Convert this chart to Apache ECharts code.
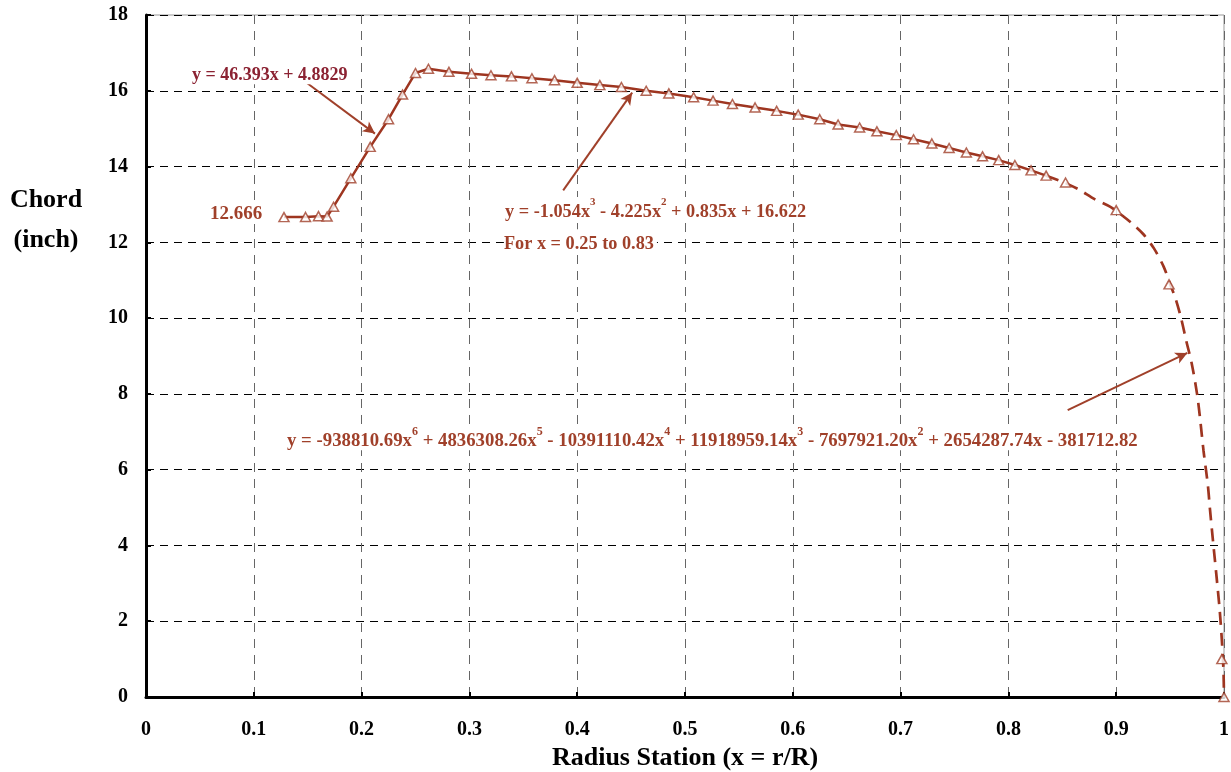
<!DOCTYPE html>
<html>
<head>
<meta charset="utf-8">
<script src="https://cdn.jsdelivr.net/npm/echarts@6/dist/echarts.min.js"></script>
<style>
html,body{margin:0;padding:0;background:#fff;}
#chart{width:1231px;height:772px;}
</style>
</head>
<body>
<div id="chart"></div>
<script>
// Measured points (triangles): radius station x = r/R and chord (inch)
var stationX = [0.128,0.148,0.160,0.168,0.174,0.190,0.208,0.225,0.238,0.250,0.262,0.281,0.302,0.320,0.339,0.358,0.379,0.400,0.421,0.441,0.464,0.485,0.508,0.526,0.544,0.565,0.585,0.605,0.625,0.642,0.662,0.678,0.696,0.712,0.729,0.745,0.761,0.776,0.791,0.806,0.821,0.835,0.853,0.900,0.949,0.998,1.000];
var chordY   = [12.666,12.67,12.69,12.68,12.94,13.69,14.52,15.25,15.90,16.47,16.58,16.50,16.45,16.41,16.38,16.33,16.28,16.21,16.15,16.10,16.00,15.93,15.83,15.74,15.65,15.56,15.47,15.37,15.25,15.11,15.03,14.93,14.83,14.72,14.61,14.49,14.37,14.27,14.17,14.04,13.90,13.76,13.58,12.85,10.89,1.00,0.00];
// Solid connecting line runs up to this station
var solidEndX = 0.835;
// Dashed tip curve
var curveX = [0.835,0.850,0.865,0.880,0.895,0.905,0.915,0.925,0.935,0.944,0.950,0.955,0.960,0.965,0.970,0.975,0.978,0.981,0.985,0.987,0.990,0.993,0.996,0.998,0.9995,1.000];
var curveY = [13.76,13.60,13.40,13.14,12.93,12.72,12.49,12.22,11.84,11.36,10.90,10.52,10.02,9.40,8.81,8.00,7.30,6.50,5.60,4.95,4.06,3.20,2.30,1.50,0.70,0.00];
// Axis ticks
var xTicks = ['0','0.1','0.2','0.3','0.4','0.5','0.6','0.7','0.8','0.9','1'];
var yTicks = ['0','2','4','6','8','10','12','14','16','18'];
// Annotations (text anchor in data coords) and arrows
var noteTexts = [
  {id:'eq1', x:0.0427, y:16.49, size:18, parts:[['b','y = 46.393x + 4.8829']], color:'#8B2232'},
  {id:'v0', x:0.0594, y:12.80, size:19, parts:[['b','12.666']], color:'#A0402A'},
  {id:'eq2', x:0.333, y:12.88, size:18.3, parts:[['b','y = -1.054x'],['s','3'],['b',' - 4.225x'],['s','2'],['b',' + 0.835x + 16.622']], color:'#A0402A'},
  {id:'rng', x:0.332, y:12.03, size:18.3, parts:[['b','For x = 0.25 to 0.83']], color:'#A0402A'},
  {id:'eq3', x:0.1308, y:6.83, size:18.8, parts:[['b','y = -938810.69x'],['s','6'],['b',' + 4836308.26x'],['s','5'],['b',' - 10391110.42x'],['s','4'],['b',' + 11918959.14x'],['s','3'],['b',' - 7697921.20x'],['s','2'],['b',' + 2654287.74x - 381712.82']], color:'#A0402A'}
];
var arrowFrom = [[0.149,16.21],[0.387,13.37],[0.855,7.57]];
var arrowTo   = [[0.2124,14.87],[0.451,15.95],[0.966,9.08]];

var FONT = '"Liberation Serif","Times New Roman",serif';
var LINE = '#9E3520';
var MARK = '#A0402A';

var points = stationX.map(function(x,i){return [x, chordY[i]];});
var solidPts = points.filter(function(p){return p[0] <= solidEndX;});
var curvePts = curveX.map(function(x,i){return [x, curveY[i]];});
var arrows = arrowFrom.map(function(f,i){return [{coord:f},{coord:arrowTo[i]}];});

var chart = echarts.init(document.getElementById('chart'), null, {renderer:'canvas'});
var option = {
  animation:false,
  backgroundColor:'#fff',
  grid:{left:146, right:7, top:15, bottom:75, show:true, borderColor:'#999', borderWidth:1,
        containLabel:false, outerBoundsMode:'none'},
  xAxis:{
    type:'value', min:0, max:1, interval:0.1,
    axisLine:{show:true, onZero:false, lineStyle:{color:'#000', width:3}},
    axisTick:{show:true, inside:true, length:5, lineStyle:{color:'#000', width:2}},
    axisLabel:{margin:23, color:'#000', fontFamily:FONT, fontWeight:'bold', fontSize:20,
      formatter:function(v){var i=Math.round(v*10); return xTicks[i];}},
    splitLine:{show:true, lineStyle:{color:'#666', width:1, type:[9,7]}},
    name:'Radius Station (x = r/R)', nameLocation:'middle', nameGap:48,
    nameTextStyle:{color:'#000', fontFamily:FONT, fontWeight:'bold', fontSize:26}
  },
  yAxis:{
    type:'value', min:0, max:18, interval:2,
    axisLine:{show:true, onZero:false, lineStyle:{color:'#000', width:3}},
    axisTick:{show:true, inside:true, length:5, lineStyle:{color:'#000', width:2}},
    axisLabel:{margin:18, color:'#000', fontFamily:FONT, fontWeight:'bold', fontSize:20,
      padding:[3,0,0,0],
      formatter:function(v){return yTicks[Math.round(v/2)];}},
    splitLine:{show:true, lineStyle:{color:'#000', width:1, type:[8,6]}}
  },
  series:[
    {type:'line', data:solidPts, showSymbol:false, symbol:'none',
     lineStyle:{color:LINE, width:2.5}, z:3},
    {type:'line', data:curvePts, showSymbol:false, symbol:'none', smooth:0.3,
     lineStyle:{color:LINE, width:2.7, type:[13,8]}, z:3},
    {type:'scatter', data:points, symbol:'triangle', symbolSize:[10,9],
     itemStyle:{color:'#fff', borderColor:MARK, borderWidth:1.5}, z:5,
     markLine:{silent:true, symbol:['none','arrow'], symbolSize:[9,12], label:{show:false},
       lineStyle:{color:MARK, width:2, type:'solid'}, data:arrows}}
  ]
};
chart.setOption(option);

function richFor(color, size){
  return {
    b:{fontFamily:FONT, fontWeight:'bold', fontSize:size, fill:color, lineHeight:24, verticalAlign:'bottom'},
    s:{fontFamily:FONT, fontWeight:'bold', fontSize:Math.round(size*0.62), fill:color, lineHeight:24, verticalAlign:'top'}
  };
}
var graphics = noteTexts.map(function(n){
  var p = chart.convertToPixel({gridIndex:0}, [n.x, n.y]);
  return {type:'text', id:n.id, x:p[0], y:p[1], z:10,
    style:{text:n.parts.map(function(t){return '{'+t[0]+'|'+t[1]+'}';}).join(''),
      rich:richFor(n.color, n.size), fill:n.color, verticalAlign:'middle', align:'left',
      backgroundColor:'#fff', padding:[0,3,0,0]}};
});
graphics.push({type:'text', id:'ytitle', x:46, y:220, z:10,
  style:{text:'Chord\n(inch)', fontFamily:FONT, fontWeight:'bold', fontSize:26, lineHeight:40,
    fill:'#000', align:'center', verticalAlign:'middle'}});
chart.setOption({graphic:graphics});
</script>
</body>
</html>
